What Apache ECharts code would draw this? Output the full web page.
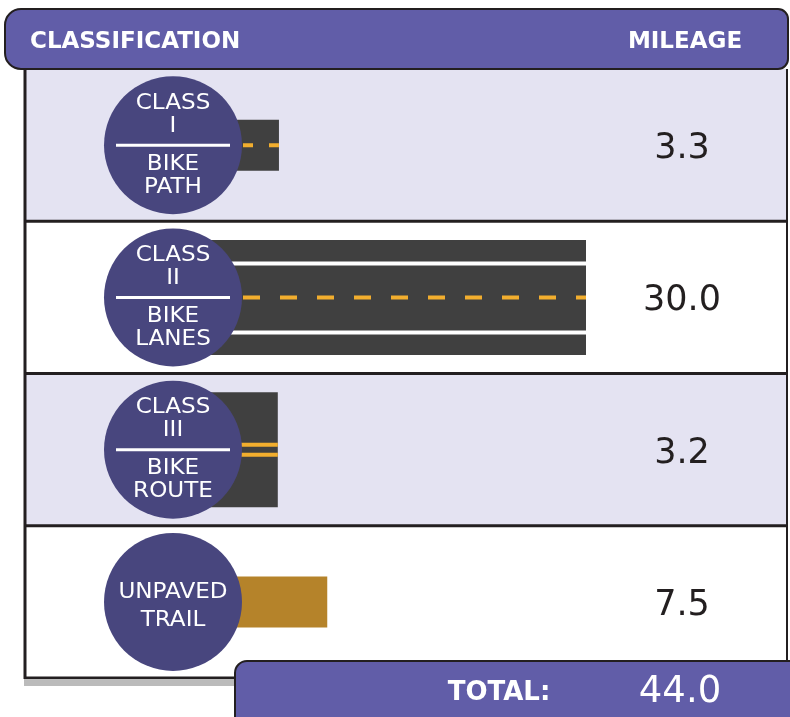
<!DOCTYPE html>
<html>
<head>
<meta charset="utf-8">
<script src="https://cdn.jsdelivr.net/npm/echarts@6/dist/echarts.min.js"></script>
<style>
  html, body { margin: 0; padding: 0; background: #fff; }
  #chart { width: 790px; height: 717px; }
</style>
</head>
<body>
<div id="chart"></div>
<script>
// facility classes, top to bottom
const roadTypes = ['path', 'lanes', 'route', 'trail']
const badgeTop = [['CLASS', 'I'], ['CLASS', 'II'], ['CLASS', 'III'], null]
const badgeBottom = [['BIKE', 'PATH'], ['BIKE', 'LANES'], ['BIKE', 'ROUTE'], ['UNPAVED', 'TRAIL']]
const mileage = [3.3, 30.0, 3.2, 7.5]
const headers = ['CLASSIFICATION', 'MILEAGE']
const totalLabel = 'TOTAL:'

const total = mileage.reduce((a, b) => a + b, 0)

const PURPLE = '#615da8'
const BADGE = '#48467e'
const LAVENDER = '#e4e3f2'
const ASPHALT = '#404040'
const YELLOW = '#f2ae2e'
const DIRT = '#b5832a'
const INK = '#231f20'
const FONT = '"DejaVu Sans", sans-serif'
const TABLE_L = 25, TABLE_R = 787

const chart = echarts.init(document.getElementById('chart'))

function renderRow(params, api) {
    const idx = api.value(1)
    const v = api.value(0)
    const start = api.coord([0, idx])
    const end = api.coord([v, idx])
    const band = api.size([0, 1])[1]
    const cy = start[1]
    const cx = start[0] - 68
    const type = roadTypes[idx]
    const children = []

    // row background + rules (top rule drawn by each row so the next bg can't hide it)
    children.push({
        type: 'rect',
        shape: { x: TABLE_L, y: cy - band / 2, width: TABLE_R - TABLE_L, height: band },
        style: { fill: idx % 2 === 0 ? LAVENDER : '#fff' }
    })
    const rule = y => ({
        type: 'line',
        shape: { x1: TABLE_L - 1, y1: y, x2: TABLE_R + 1, y2: y },
        style: { stroke: INK, lineWidth: 3 }
    })
    if (idx > 0) children.push(rule(cy - band / 2))
    if (idx === roadTypes.length - 1) children.push(rule(cy + band / 2))

    // the road itself
    const wide = type === 'lanes' || type === 'route'
    const h = wide ? 115 : 51
    const roadX = cx
    children.push({
        type: 'rect',
        shape: { x: roadX, y: cy - h / 2, width: end[0] - roadX, height: h },
        style: { fill: type === 'trail' ? DIRT : ASPHALT }
    })
    if (type === 'path') {
        children.push({
            type: 'line',
            shape: { x1: start[0] + 2, y1: cy, x2: end[0], y2: cy },
            style: { stroke: YELLOW, lineWidth: 4, lineDash: [10, 16] }
        })
    } else if (type === 'lanes') {
        [-34, 35].forEach(dy => children.push({
            type: 'line',
            shape: { x1: roadX, y1: cy + dy, x2: end[0], y2: cy + dy },
            style: { stroke: '#fff', lineWidth: 4 }
        }))
        children.push({
            type: 'line',
            shape: { x1: start[0] + 2, y1: cy, x2: end[0], y2: cy },
            style: { stroke: YELLOW, lineWidth: 4, lineDash: [17, 20] }
        })
    } else if (type === 'route') {
        [-5, 5].forEach(dy => children.push({
            type: 'line',
            shape: { x1: roadX, y1: cy + dy, x2: end[0], y2: cy + dy },
            style: { stroke: YELLOW, lineWidth: 4 }
        }))
    }

    // badge circle
    children.push({
        type: 'circle',
        shape: { cx: cx, cy: cy, r: 69 },
        style: { fill: BADGE }
    })
    const txt = (s, y) => ({
        type: 'text',
        scaleX: 1.1, originX: cx, originY: y,
        style: {
            text: s, x: cx, y: y, fill: '#fff', font: '21px ' + FONT,
            align: 'center', verticalAlign: 'middle',
            textAlign: 'center', textVerticalAlign: 'middle'
        }
    })
    const top = badgeTop[idx], bottom = badgeBottom[idx]
    if (top) {
        children.push(txt(top[0], cy - 42), txt(top[1], cy - 19))
        children.push({
            type: 'line',
            shape: { x1: cx - 57, y1: cy, x2: cx + 57, y2: cy },
            style: { stroke: '#fff', lineWidth: 3 }
        })
        children.push(txt(bottom[0], cy + 19), txt(bottom[1], cy + 42))
    } else {
        children.push(txt(bottom[0], cy - 9), txt(bottom[1], cy + 19))
    }

    // mileage column
    children.push({
        type: 'text',
        style: {
            text: v.toFixed(1), x: 682, y: cy + 4, fill: INK, font: '35px ' + FONT,
            align: 'center', verticalAlign: 'middle',
            textAlign: 'center', textVerticalAlign: 'middle'
        }
    })
    return { type: 'group', children: children }
}

const option = {
    animation: false,
    grid: { left: 241, top: 69, bottom: 39, width: 460 },
    xAxis: { type: 'value', min: 0, max: 40, show: false },
    yAxis: { type: 'category', data: roadTypes, inverse: true, show: false },
    series: [{
        type: 'custom',
        renderItem: renderRow,
        encode: { x: 0, y: 1 },
        data: mileage.map((v, i) => [v, i]),
        silent: true
    }],
    graphic: [
        // header bar
        {
            type: 'rect', z: 50,
            shape: { x: 5, y: 9, width: 783, height: 60, r: [16, 10, 10, 16] },
            style: { fill: PURPLE, stroke: INK, lineWidth: 2 }
        },
        {
            type: 'text', z: 51,
            style: { text: headers[0], x: 30, y: 42, fill: '#fff', font: 'bold 23px ' + FONT, verticalAlign: 'middle', textVerticalAlign: 'middle' }
        },
        {
            type: 'text', z: 51,
            style: { text: headers[1], x: 685, y: 42, fill: '#fff', font: 'bold 23px ' + FONT, align: 'center', textAlign: 'center', verticalAlign: 'middle', textVerticalAlign: 'middle' }
        },
        // table frame
        { type: 'rect', z: 40, shape: { x: TABLE_L - 1, y: 679, width: 212, height: 7 }, style: { fill: '#bbbbbb' } },
        { type: 'line', z: 60, shape: { x1: TABLE_L, y1: 69, x2: TABLE_L, y2: 679 }, style: { stroke: INK, lineWidth: 3 } },
        { type: 'line', z: 60, shape: { x1: TABLE_R, y1: 69, x2: TABLE_R, y2: 665 }, style: { stroke: INK, lineWidth: 2 } },
        // total bar
        {
            type: 'rect', z: 70,
            shape: { x: 235, y: 661, width: 570, height: 70, r: 12 },
            style: { fill: PURPLE, stroke: INK, lineWidth: 2 }
        },
        {
            type: 'text', z: 71,
            style: { text: totalLabel, x: 499, y: 693, fill: '#fff', font: 'bold 26px ' + FONT, align: 'center', textAlign: 'center', verticalAlign: 'middle', textVerticalAlign: 'middle' }
        },
        {
            type: 'text', z: 71,
            style: { text: total.toFixed(1), x: 680, y: 692, fill: '#fff', font: '37px ' + FONT, align: 'center', textAlign: 'center', verticalAlign: 'middle', textVerticalAlign: 'middle' }
        }
    ]
}
chart.setOption(option)
</script>
</body>
</html>
